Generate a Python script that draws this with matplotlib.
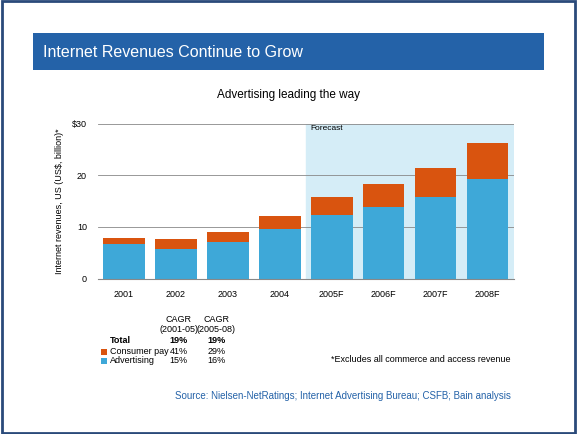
import matplotlib
matplotlib.use("Agg")
import matplotlib.pyplot as plt
from matplotlib.patches import Rectangle

years = ["2001", "2002", "2003", "2004", "2005F", "2006F", "2007F", "2008F"]
advertising = [6.8, 5.8, 7.0, 9.7, 12.3, 13.8, 15.8, 19.3]
consumer_pay = [1.0, 1.8, 2.0, 2.4, 3.5, 4.5, 5.6, 7.0]
yticks = [0, 10, 20, 30]
ytick_labels = ["0", "10", "20", "$30"]

BLUE = "#3ea8d8"
ORANGE = "#d9540f"

fig = plt.figure(figsize=(5.77, 4.34), dpi=100)
fig.patch.set_facecolor("white")
fig.add_artist(Rectangle((0.003, 0.003), 0.994, 0.994, transform=fig.transFigure,
                         fill=False, edgecolor="#2a4a7a", linewidth=2))
fig.add_artist(Rectangle((0.057, 0.838), 0.886, 0.085, transform=fig.transFigure,
                         facecolor="#2462a8", edgecolor="none"))
fig.text(0.075, 0.88, "Internet Revenues Continue to Grow", color="white",
         fontsize=11.5, va="center", family="Liberation Sans")
fig.text(0.5, 0.775, "Advertising leading the way", ha="center", fontsize=8.5,
         family="Liberation Sans")

ax = fig.add_axes([0.17, 0.358, 0.72, 0.357])
x = range(len(years))
ax.axvspan(3.5, 7.5, color="#d5edf7", zorder=0)
ax.text(3.58, 29.7, "Forecast", fontsize=6, va="top", family="Liberation Sans")
ax.bar(x, advertising, width=0.8, color=BLUE, zorder=2)
ax.bar(x, consumer_pay, width=0.8, bottom=advertising, color=ORANGE, zorder=2)
ax.set_xlim(-0.5, 7.5)
ax.set_ylim(0, 30)
ax.set_yticks(yticks)
ax.set_yticklabels(ytick_labels, fontsize=6.5, family="Liberation Sans")
ax.set_xticks(list(x))
ax.set_xticklabels(years, fontsize=6.5, family="Liberation Sans")
ax.yaxis.grid(True, color="#888888", linewidth=0.6, zorder=1)
ax.tick_params(length=0, pad=8)
for s in ["top", "right", "left"]:
    ax.spines[s].set_visible(False)
ax.spines["bottom"].set_color("#888888")
ax.set_ylabel("Internet revenues, US (US$, billion)*", fontsize=6.5,
              family="Liberation Sans", labelpad=6)

f = dict(fontsize=6.5, family="Liberation Sans")
fig.text(0.31, 0.23, "CAGR\n(2001-05)", ha="center", va="bottom", linespacing=1.1, **f)
fig.text(0.375, 0.23, "CAGR\n(2005-08)", ha="center", va="bottom", linespacing=1.1, **f)
fig.text(0.19, 0.215, "Total", weight="bold", va="center", **f)
fig.text(0.31, 0.215, "19%", weight="bold", ha="center", va="center", **f)
fig.text(0.375, 0.215, "19%", weight="bold", ha="center", va="center", **f)
fig.add_artist(Rectangle((0.175, 0.183), 0.011, 0.014, transform=fig.transFigure,
                         facecolor=ORANGE, edgecolor="none"))
fig.text(0.19, 0.19, "Consumer pay", va="center", **f)
fig.text(0.31, 0.19, "41%", ha="center", va="center", **f)
fig.text(0.375, 0.19, "29%", ha="center", va="center", **f)
fig.add_artist(Rectangle((0.175, 0.162), 0.011, 0.014, transform=fig.transFigure,
                         facecolor=BLUE, edgecolor="none"))
fig.text(0.19, 0.169, "Advertising", va="center", **f)
fig.text(0.31, 0.169, "15%", ha="center", va="center", **f)
fig.text(0.375, 0.169, "16%", ha="center", va="center", **f)
fig.text(0.885, 0.172, "*Excludes all commerce and access revenue", ha="right",
         va="center", **f)
fig.text(0.885, 0.088, "Source: Nielsen-NetRatings; Internet Advertising Bureau; CSFB; Bain analysis",
         ha="right", va="center", color="#2462a8", fontsize=7, family="Liberation Sans")

fig.savefig("out.png", dpi=100)
